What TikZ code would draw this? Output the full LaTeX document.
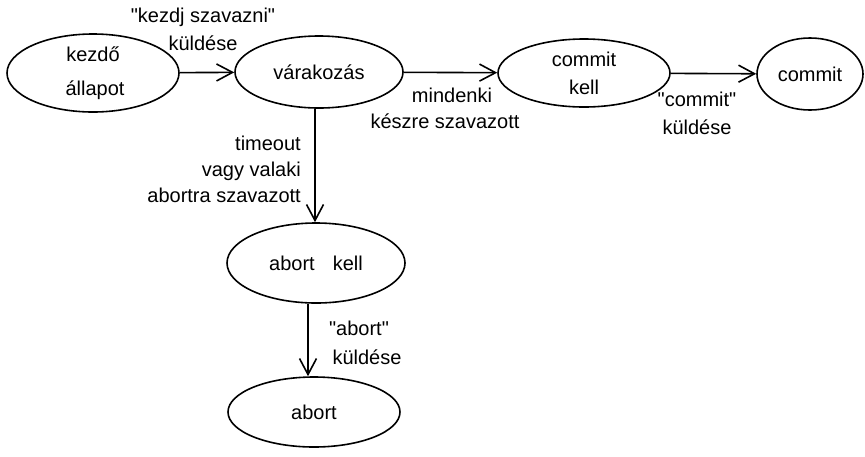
\documentclass[tikz,border=0pt]{standalone}
\usepackage{fontspec}
\setmainfont{Liberation Sans}
\usetikzlibrary{arrows.meta,shapes.geometric}

% egyenes idézőjel (a tex-text leképezés nélkül)
\newcommand\idez{\XeTeXglyph\the\XeTeXcharglyph"22\relax}

\tikzset{
  allapot/.style={draw, ellipse, line width=1.6pt, inner sep=0pt, align=center},
  nyil/.style={line width=1.6pt, -{Straight Barb[length=16pt,width=17pt,line width=1.6pt]}},
  felirat/.style={align=center, inner sep=0pt},
}

\begin{document}
\begin{tikzpicture}[x=1pt, y=-1pt, font=\fontsize{20}{26}\selectfont]
\useasboundingbox (0,0) rectangle (865,456);

% Állapotok
\node[allapot, minimum width=172pt, minimum height=78pt] (kezdo) at (93,73) {kezdő\hspace{16pt}\\[8pt]\hspace{4pt}állapot};
\node[allapot, minimum width=168pt, minimum height=72pt] (var) at (319,72) {várakozás};
\node[allapot, minimum width=172pt, minimum height=68pt] (commitkell) at (584,73) {commit\\[2pt]kell\hspace{4pt}};
\node[allapot, minimum width=106pt, minimum height=72pt] (commit) at (810,74) {commit};
\node[allapot, minimum width=178pt, minimum height=80pt] (abortkell) at (316,263) {abort\hspace{0.9em}kell};
\node[allapot, minimum width=172pt, minimum height=70pt] (abort) at (314,412) {abort};

% Átmenetek
\draw[nyil] (kezdo) -- (var);
\draw[nyil] (var) -- (commitkell);
\draw[nyil] (commitkell) -- (commit);
\draw[nyil] (var.south -| 315,0) -- (abortkell.north -| 315,0);
\draw[nyil] (abortkell.south -| 308,0) -- (abort.north -| 308,0);

% Feliratok
\node[felirat] (kuld1) at (203,29) {\idez kezdj szavazni\idez\\[2pt]küldése};
\node[felirat] (kesz) at (445,108) {\hspace{14pt}mindenki\\készre szavazott};
\node[felirat] (kuld2) at (697,113) {\idez commit\idez\\[2pt]küldése};
\node[felirat, align=right, anchor=east] (timeout) at (301,169) {timeout\\vagy valaki\\abortra szavazott};
\node[felirat] (kuld3) at (359,343) {\idez abort\idez\\[3pt]\hspace{0.8em}küldése};

\end{tikzpicture}
\end{document}
